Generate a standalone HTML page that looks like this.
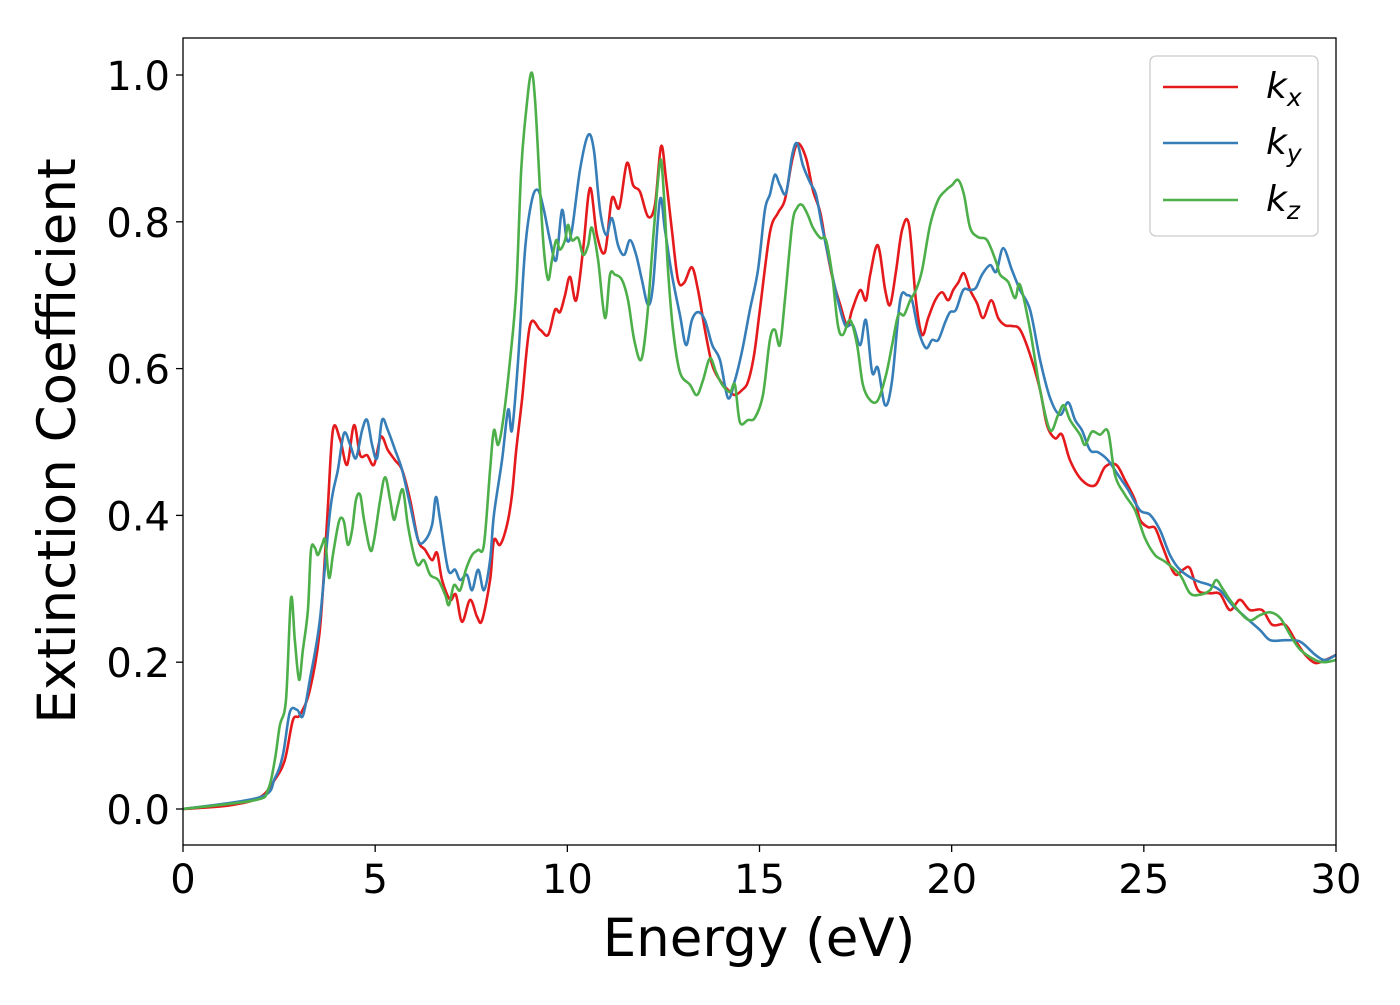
<!DOCTYPE html>
<html><head><meta charset="utf-8"><style>
html,body{margin:0;padding:0;background:#fff;}
svg text{font-family:"DejaVu Sans","Liberation Sans",sans-serif;fill:#000;}
</style></head><body>
<svg id="chart" width="1400" height="1000" viewBox="0 0 1400 1000" xmlns="http://www.w3.org/2000/svg">
<rect x="0" y="0" width="1400" height="1000" fill="#fff"/>
<g id="plot"></g>
<rect x="183" y="38" width="1153" height="807" fill="none" stroke="#000" stroke-width="1.3"/>
<g id="xticks"></g>
<g id="yticks"></g>
<text x="759" y="956" font-size="53" text-anchor="middle">Energy (eV)</text>
<text x="0" y="0" font-size="53" text-anchor="middle" transform="translate(75,441) rotate(-90)">Extinction Coefficient</text>
<g>
<rect x="1150" y="56" width="168" height="180" rx="6" fill="#fff" fill-opacity="0.8" stroke="#ccc" stroke-width="1.3"/>
<g><line x1="1163" y1="87" x2="1238" y2="87" stroke="#e41a1c" stroke-width="2.6"/><text x="1266" y="98" font-size="36" font-style="italic">k<tspan font-size="25" dy="8">x</tspan></text></g>
<g><line x1="1163" y1="143" x2="1238" y2="143" stroke="#377eb8" stroke-width="2.6"/><text x="1266" y="154" font-size="36" font-style="italic">k<tspan font-size="25" dy="8">y</tspan></text></g>
<g><line x1="1163" y1="200" x2="1238" y2="200" stroke="#4daf4a" stroke-width="2.6"/><text x="1266" y="211" font-size="36" font-style="italic">k<tspan font-size="25" dy="8">z</tspan></text></g>
</g>
</svg>
<script>
const xTicks = [0, 5, 10, 15, 20, 25, 30];
const yTicks = [0.0, 0.2, 0.4, 0.6, 0.8, 1.0];
const seriesNames = ["kx", "ky", "kz"];
const kxData = [[0,0],[1.22,.005],[2.0,.016],[2.39,.040],[2.65,.067],[2.86,.121],[3.04,.128],[3.30,.162],[3.56,.244],[3.75,.394],[3.90,.516],[4.09,.503],[4.27,.469],[4.45,.523],[4.61,.482],[4.79,.482],[4.97,.469],[5.15,.507],[5.33,.489],[5.52,.475],[5.70,.462],[5.91,.421],[6.12,.366],[6.30,.353],[6.48,.339],[6.61,.349],[6.74,.312],[6.95,.285],[7.10,.292],[7.26,.255],[7.47,.285],[7.65,.262],[7.78,.257],[7.99,.312],[8.09,.366],[8.25,.360],[8.43,.387],[8.56,.428],[8.67,.489],[8.82,.557],[9.03,.659],[9.29,.653],[9.50,.646],[9.68,.680],[9.81,.677],[9.94,.700],[10.07,.725],[10.23,.693],[10.41,.762],[10.59,.846],[10.77,.782],[10.98,.759],[11.16,.832],[11.35,.819],[11.55,.880],[11.71,.850],[11.89,.841],[12.10,.807],[12.28,.823],[12.44,.903],[12.57,.857],[12.72,.789],[12.88,.721],[13.04,.717],[13.24,.738],[13.40,.707],[13.58,.653],[13.77,.605],[13.97,.584],[14.18,.571],[14.36,.564],[14.55,.571],[14.70,.582],[14.86,.619],[15.01,.680],[15.27,.785],[15.48,.812],[15.66,.830],[15.85,.884],[16.00,.907],[16.21,.887],[16.39,.843],[16.58,.813],[16.73,.768],[16.91,.721],[17.10,.687],[17.28,.659],[17.41,.680],[17.62,.707],[17.77,.693],[17.88,.728],[18.08,.768],[18.27,.707],[18.40,.687],[18.55,.732],[18.71,.789],[18.89,.796],[19.07,.693],[19.23,.646],[19.39,.669],[19.57,.693],[19.75,.704],[19.91,.693],[20.04,.707],[20.17,.717],[20.32,.730],[20.48,.707],[20.66,.689],[20.82,.669],[21.03,.693],[21.21,.669],[21.39,.659],[21.57,.658],[21.78,.653],[22.04,.619],[22.30,.571],[22.48,.523],[22.69,.505],[22.87,.510],[23.08,.475],[23.39,.448],[23.73,.441],[23.99,.466],[24.28,.469],[24.51,.448],[24.77,.421],[24.90,.394],[25.11,.384],[25.29,.383],[25.47,.360],[25.68,.332],[25.84,.319],[26.02,.326],[26.20,.328],[26.41,.298],[26.72,.294],[26.98,.293],[27.24,.271],[27.50,.285],[27.76,.271],[28.08,.271],[28.34,.251],[28.68,.251],[28.94,.230],[29.20,.210],[29.46,.199],[29.72,.203],[30,.210]];
const kyData = [[0,0],[2.0,.016],[2.39,.042],[2.60,.074],[2.78,.132],[2.97,.135],[3.12,.127],[3.30,.176],[3.56,.257],[3.83,.407],[4.03,.462],[4.19,.512],[4.35,.496],[4.50,.478],[4.66,.516],[4.79,.530],[4.92,.496],[5.05,.478],[5.18,.530],[5.33,.516],[5.52,.489],[5.70,.462],[5.91,.414],[6.12,.366],[6.30,.366],[6.48,.387],[6.58,.425],[6.69,.394],[6.90,.326],[7.08,.326],[7.21,.312],[7.39,.319],[7.52,.298],[7.68,.326],[7.83,.298],[7.99,.339],[8.09,.401],[8.30,.475],[8.46,.544],[8.56,.516],[8.72,.612],[8.90,.762],[9.08,.830],[9.24,.843],[9.39,.816],[9.55,.775],[9.71,.748],[9.86,.816],[9.99,.775],[10.12,.789],[10.33,.871],[10.54,.918],[10.69,.898],[10.85,.816],[11.01,.782],[11.16,.805],[11.32,.768],[11.48,.755],[11.63,.775],[11.79,.755],[11.94,.721],[12.10,.687],[12.23,.714],[12.41,.830],[12.54,.789],[12.72,.728],[12.93,.673],[13.09,.632],[13.24,.666],[13.40,.677],[13.58,.666],[13.77,.632],[13.97,.612],[14.18,.560],[14.36,.584],[14.55,.625],[14.75,.680],[14.96,.734],[15.14,.816],[15.27,.837],[15.40,.864],[15.53,.850],[15.69,.839],[15.85,.891],[15.98,.907],[16.13,.877],[16.32,.853],[16.47,.837],[16.63,.793],[16.84,.741],[17.04,.693],[17.23,.659],[17.43,.659],[17.62,.632],[17.77,.666],[17.93,.595],[18.08,.601],[18.27,.550],[18.45,.584],[18.66,.693],[18.84,.700],[18.97,.693],[19.13,.653],[19.33,.628],[19.49,.639],[19.65,.639],[19.83,.663],[19.96,.677],[20.11,.680],[20.30,.707],[20.48,.707],[20.63,.710],[20.79,.728],[21.00,.741],[21.16,.732],[21.34,.764],[21.57,.734],[21.78,.707],[22.04,.680],[22.30,.612],[22.56,.560],[22.82,.537],[23.03,.554],[23.21,.530],[23.39,.516],[23.60,.489],[23.81,.486],[24.07,.475],[24.33,.455],[24.59,.435],[24.90,.407],[25.16,.401],[25.42,.380],[25.68,.346],[25.94,.326],[26.33,.312],[26.72,.305],[26.98,.298],[27.30,.278],[27.63,.262],[28.02,.244],[28.29,.230],[28.68,.230],[29.07,.228],[29.46,.210],[29.72,.203],[30,.210]];
const kzData = [[0,0],[1.87,.012],[2.21,.026],[2.39,.067],[2.52,.114],[2.68,.149],[2.81,.287],[2.91,.230],[3.02,.176],[3.12,.217],[3.25,.271],[3.33,.353],[3.43,.356],[3.51,.346],[3.62,.360],[3.70,.366],[3.80,.315],[3.90,.346],[4.01,.380],[4.09,.396],[4.19,.391],[4.29,.360],[4.40,.380],[4.50,.421],[4.61,.428],[4.71,.394],[4.87,.353],[4.97,.366],[5.13,.421],[5.26,.452],[5.39,.421],[5.49,.394],[5.59,.414],[5.72,.435],[5.85,.387],[6.01,.346],[6.12,.332],[6.27,.339],[6.43,.319],[6.64,.312],[6.82,.292],[6.92,.278],[7.05,.305],[7.21,.298],[7.36,.326],[7.52,.346],[7.68,.353],[7.83,.360],[7.99,.462],[8.09,.516],[8.20,.496],[8.33,.530],[8.51,.612],[8.67,.707],[8.80,.871],[8.93,.952],[9.06,1.003],[9.16,.966],[9.29,.843],[9.39,.762],[9.50,.721],[9.60,.748],[9.71,.775],[9.81,.762],[9.94,.775],[10.02,.796],[10.12,.775],[10.28,.778],[10.41,.755],[10.54,.768],[10.64,.792],[10.80,.748],[10.98,.669],[11.11,.728],[11.24,.728],[11.42,.721],[11.58,.693],[11.74,.639],[11.92,.612],[12.07,.666],[12.23,.775],[12.36,.857],[12.44,.884],[12.52,.830],[12.62,.734],[12.75,.653],[12.93,.595],[13.19,.578],[13.37,.564],[13.53,.584],[13.71,.614],[13.87,.595],[14.03,.578],[14.23,.568],[14.36,.578],[14.49,.527],[14.70,.530],[14.88,.533],[15.09,.564],[15.27,.639],[15.40,.653],[15.53,.632],[15.66,.693],[15.85,.796],[15.98,.819],[16.11,.823],[16.26,.809],[16.39,.792],[16.58,.778],[16.73,.775],[16.89,.728],[17.04,.659],[17.17,.646],[17.36,.666],[17.54,.632],[17.69,.578],[17.88,.557],[18.08,.557],[18.29,.591],[18.45,.632],[18.61,.673],[18.76,.673],[18.92,.693],[19.07,.707],[19.23,.734],[19.44,.796],[19.65,.830],[19.85,.843],[20.01,.850],[20.17,.857],[20.32,.837],[20.48,.792],[20.69,.779],[20.92,.775],[21.16,.745],[21.26,.728],[21.47,.718],[21.65,.696],[21.78,.714],[22.04,.653],[22.30,.571],[22.56,.516],[22.77,.537],[22.92,.550],[23.08,.530],[23.34,.510],[23.47,.496],[23.65,.514],[23.86,.510],[24.07,.514],[24.25,.455],[24.51,.428],[24.77,.407],[25.03,.369],[25.29,.346],[25.55,.337],[25.94,.319],[26.20,.294],[26.46,.292],[26.72,.298],[26.88,.312],[27.04,.301],[27.24,.285],[27.50,.268],[27.76,.257],[28.02,.264],[28.29,.268],[28.55,.260],[28.81,.237],[29.07,.217],[29.46,.203],[29.72,.200],[30,.203]];
const seriesColors = ["#e41a1c", "#377eb8", "#4daf4a"];

const NS = "http://www.w3.org/2000/svg";
const X0 = 183, X1 = 1336, YB = 809, YT = 75;
function xScale(e) { return X0 + (e - 0) / 30 * (X1 - X0); }
function yScale(v) { return YB - v * (YB - YT); }

function smoothPath(pts) {
  let d = "M" + pts[0][0].toFixed(2) + "," + pts[0][1].toFixed(2);
  for (let i = 0; i < pts.length - 1; i++) {
    const p0 = pts[Math.max(0, i - 1)], p1 = pts[i], p2 = pts[i + 1], p3 = pts[Math.min(pts.length - 1, i + 2)];
    const c1x = p1[0] + (p2[0] - p0[0]) / 6, c1y = p1[1] + (p2[1] - p0[1]) / 6;
    const c2x = p2[0] - (p3[0] - p1[0]) / 6, c2y = p2[1] - (p3[1] - p1[1]) / 6;
    d += "C" + c1x.toFixed(2) + "," + c1y.toFixed(2) + " " + c2x.toFixed(2) + "," + c2y.toFixed(2) + " " + p2[0].toFixed(2) + "," + p2[1].toFixed(2);
  }
  return d;
}

const plot = document.getElementById("plot");
const allData = [kxData, kyData, kzData];
allData.forEach(function (data, i) {
  const pts = data.map(function (p) { return [xScale(p[0]), yScale(p[1])]; });
  const path = document.createElementNS(NS, "path");
  path.setAttribute("d", smoothPath(pts));
  path.setAttribute("fill", "none");
  path.setAttribute("stroke", seriesColors[i]);
  path.setAttribute("stroke-width", "2.6");
  path.setAttribute("stroke-linejoin", "round");
  
  
  plot.appendChild(path);
});

const xg = document.getElementById("xticks");
xTicks.forEach(function (t) {
  const x = xScale(t);
  const ln = document.createElementNS(NS, "line");
  ln.setAttribute("x1", x); ln.setAttribute("x2", x);
  ln.setAttribute("y1", 845); ln.setAttribute("y2", 852);
  ln.setAttribute("stroke", "#000"); ln.setAttribute("stroke-width", "1.3");
  
  
  xg.appendChild(ln);
  const tx = document.createElementNS(NS, "text");
  tx.setAttribute("x", x); tx.setAttribute("y", 893);
  tx.setAttribute("font-size", "40"); tx.setAttribute("text-anchor", "middle");
  tx.textContent = String(t);
  
  
  xg.appendChild(tx);
});

const yg = document.getElementById("yticks");
yTicks.forEach(function (t) {
  const y = yScale(t);
  const ln = document.createElementNS(NS, "line");
  ln.setAttribute("x1", 176); ln.setAttribute("x2", 183);
  ln.setAttribute("y1", y); ln.setAttribute("y2", y);
  ln.setAttribute("stroke", "#000"); ln.setAttribute("stroke-width", "1.3");
  
  
  yg.appendChild(ln);
  const tx = document.createElementNS(NS, "text");
  tx.setAttribute("x", 170); tx.setAttribute("y", y + 15);
  tx.setAttribute("font-size", "40"); tx.setAttribute("text-anchor", "end");
  tx.textContent = t.toFixed(1);
  
  
  yg.appendChild(tx);
});
</script>
</body></html>
